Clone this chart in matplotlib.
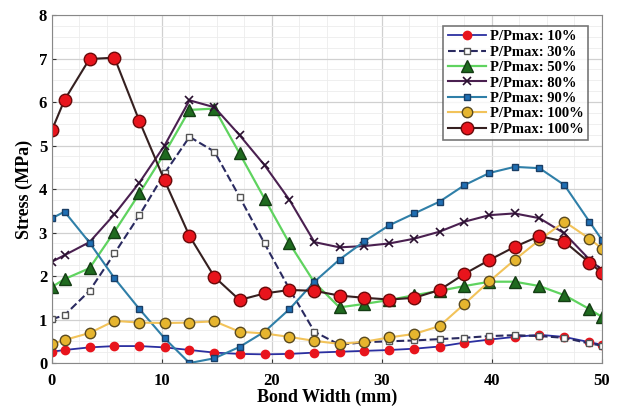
import matplotlib
matplotlib.use('Agg')
import matplotlib.pyplot as plt
from matplotlib.ticker import AutoMinorLocator

plt.rcParams['font.family'] = ['Liberation Serif', 'DejaVu Serif']
plt.rcParams['font.weight'] = 'bold'

# bond width positions (mm)
x = [0, 1.14, 3.41, 5.68, 7.95, 10.23, 12.5, 14.77, 17.05, 19.32, 21.59, 23.86,
     26.14, 28.41, 30.68, 32.95, 35.23, 37.5, 39.77, 42.05, 44.32, 46.59, 48.86, 50]

p10 = [0.26, 0.30, 0.36, 0.39, 0.39, 0.36, 0.30, 0.24, 0.21, 0.20, 0.21, 0.24,
       0.26, 0.28, 0.30, 0.33, 0.38, 0.47, 0.54, 0.60, 0.65, 0.60, 0.48, 0.42]
p30 = [1.01, 1.10, 1.66, 2.52, 3.40, 4.36, 5.20, 4.86, 3.82, 2.75, 1.70, 0.72,
       0.42, 0.48, 0.50, 0.52, 0.55, 0.58, 0.62, 0.64, 0.62, 0.58, 0.45, 0.40]
p50 = [1.75, 1.93, 2.18, 3.02, 3.90, 4.82, 5.82, 5.85, 4.82, 3.78, 2.75, 1.85,
       1.28, 1.36, 1.45, 1.56, 1.66, 1.77, 1.87, 1.87, 1.77, 1.56, 1.24, 1.06]
p80 = [2.33, 2.48, 2.78, 3.42, 4.15, 5.00, 6.04, 5.88, 5.24, 4.55, 3.75, 2.78,
       2.66, 2.69, 2.75, 2.86, 3.02, 3.25, 3.40, 3.44, 3.33, 2.98, 2.38, 2.14]
p90 = [3.33, 3.48, 2.77, 1.95, 1.24, 0.57, 0.00, 0.11, 0.37, 0.72, 1.24, 1.87,
       2.38, 2.80, 3.17, 3.44, 3.71, 4.09, 4.37, 4.51, 4.48, 4.09, 3.25, 2.83]
p100a = [0.44, 0.53, 0.69, 0.97, 0.93, 0.92, 0.93, 0.96, 0.72, 0.68, 0.60, 0.51,
         0.44, 0.49, 0.59, 0.67, 0.85, 1.36, 1.88, 2.37, 2.83, 3.25, 2.86, 2.63]
p100b = [5.36, 6.05, 6.99, 7.02, 5.56, 4.20, 2.92, 1.98, 1.45, 1.60, 1.68, 1.66,
         1.55, 1.50, 1.46, 1.50, 1.68, 2.05, 2.37, 2.67, 2.92, 2.79, 2.31, 2.07]

labels = ['P/Pmax: 10%', 'P/Pmax: 30%', 'P/Pmax: 50%', 'P/Pmax: 80%',
          'P/Pmax: 90%', 'P/Pmax: 100%', 'P/Pmax: 100%']

fig = plt.figure(figsize=(6.19, 4.07), dpi=100)
ax = fig.add_axes([0.084, 0.108, 0.8885, 0.855])

ax.plot(x, p10, '-', color='#2b2fa0', lw=1.3, marker='o', ms=6,
        mfc='#e8141c', mec='#e8141c', label=labels[0])
ax.plot(x, p30, '--', color='#2a2a60', lw=1.5, marker='s', ms=5,
        mfc='white', mec='#555555', label=labels[1])
ax.plot(x, p50, '-', color='#5fd35f', lw=1.6, marker='^', ms=8,
        mfc='#1f6a1f', mec='#143d14', label=labels[2])
ax.plot(x, p80, '-', color='#4a2050', lw=1.5, marker='x', ms=6,
        mec='#2a1030', mew=1.2, label=labels[3])
ax.plot(x, p90, '-', color='#2f7fa8', lw=1.5, marker='s', ms=5,
        mfc='#1f6fb4', mec='#1a3f66', label=labels[4])
ax.plot(x, p100a, '-', color='#f2c35a', lw=1.5, marker='o', ms=7.5,
        mfc='#e6b52e', mec='#5a4a20', label=labels[5])
ax.plot(x, p100b, '-', color='#352020', lw=1.5, marker='o', ms=9,
        mfc='#e8141c', mec='#6a0a0a', label=labels[6])

ax.set_xlim(0, 50)
ax.set_ylim(0, 8)
ax.set_xticks([0, 10, 20, 30, 40, 50])
ax.set_yticks(range(0, 9))
ax.xaxis.set_minor_locator(AutoMinorLocator(4))
ax.yaxis.set_minor_locator(AutoMinorLocator(4))
ax.grid(which='major', color='#d0d0d0', lw=0.9)
ax.grid(which='minor', color='#ececec', lw=0.6)
ax.set_axisbelow(True)
ax.tick_params(which='both', direction='in', length=3, labelsize=12, colors='#333333')
ax.tick_params(axis='x', pad=7)
ax.tick_params(which='minor', length=0)
for lab in ax.get_xticklabels() + ax.get_yticklabels():
    lab.set_fontweight('bold')
    lab.set_color('black')
for s in ax.spines.values():
    s.set_color('#888888')

ax.set_xlabel('Bond Width (mm)', fontsize=13, fontweight='bold', labelpad=0)
ax.set_ylabel('Stress (MPa)', fontsize=13, fontweight='bold', labelpad=4)

leg = ax.legend(loc='upper right', prop={'weight': 'bold', 'size': 10.5},
                frameon=True, fancybox=False, edgecolor='#555555',
                handlelength=2.6, borderpad=0.3, labelspacing=0.15,
                handletextpad=0.3, bbox_to_anchor=(0.988, 0.99))
leg.get_frame().set_linewidth(1.2)

fig.savefig('out.png', dpi=100)
